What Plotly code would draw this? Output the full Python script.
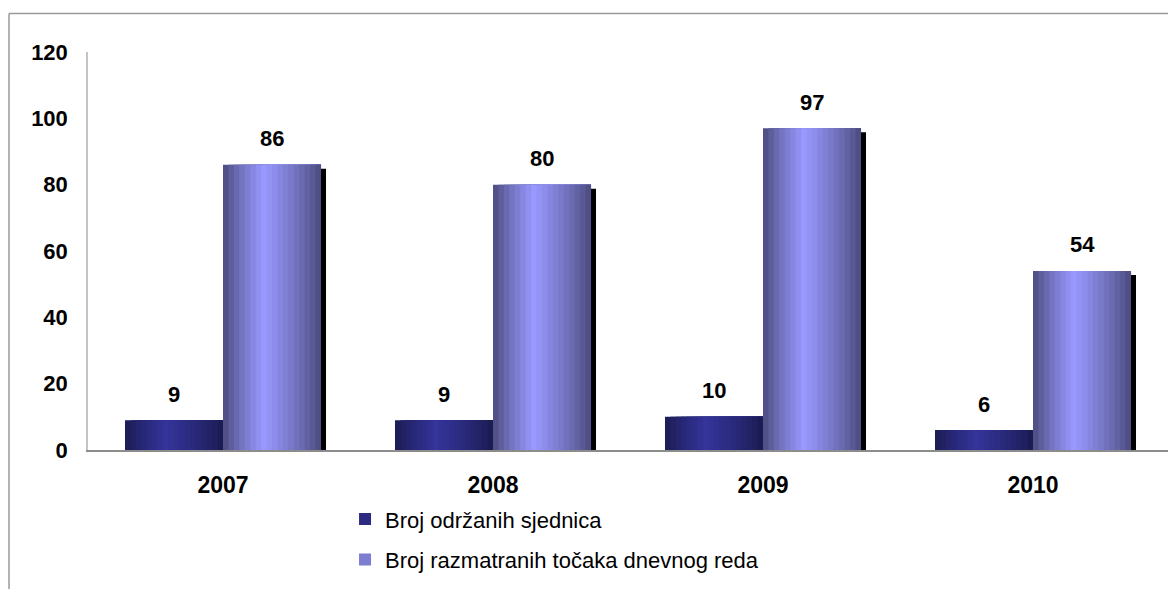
import plotly.graph_objects as go

years = ["2007", "2008", "2009", "2010"]
sessions = [9, 9, 10, 6]
agenda_items = [86, 80, 97, 54]
series_names = ["Broj održanih sjednica", "Broj razmatranih točaka dnevnog reda"]
y_ticks = [0, 20, 40, 60, 80, 100, 120]

FONT = "Liberation Sans, Arial, sans-serif"
BAR_W = 0.363          # width of one bar in category units
N_STRIPS = 18          # strips used to imitate the horizontal gradient
SHADOW_DX = 0.0185     # shadow shift (category units)
SHADOW_DY = 1.2        # shadow drop (value units)

xpos = list(range(len(years)))


def blend(edge, peak, t):
    return "rgb({},{},{})".format(*[round(e + (p - e) * t) for e, p in zip(edge, peak)])


def profile(u, peak_at=0.42):
    # 0 at the edges, 1 at the highlight
    if u <= peak_at:
        v = u / peak_at
    else:
        v = (1 - u) / (1 - peak_at)
    return v ** 0.8


fig = go.Figure()

# shadow behind the light bars
fig.add_trace(go.Bar(
    x=xpos, y=[v - SHADOW_DY for v in agenda_items],
    width=BAR_W, offset=SHADOW_DX, marker=dict(color="black", line=dict(width=0)),
    showlegend=False, hoverinfo="skip"))

series = [
    (sessions, -BAR_W, (26, 26, 78), (52, 52, 155), series_names[0], "legend"),
    (agenda_items, 0.0, (72, 72, 120), (153, 153, 255), series_names[1], "legend2"),
]

for vals, start, edge, peak, name, leg in series:
    for k in range(N_STRIPS):
        u0 = k / N_STRIPS
        uc = (k + 0.5) / N_STRIPS
        col = blend(edge, peak, profile(uc))
        show = (k == 4)
        fig.add_trace(go.Bar(
            x=xpos, y=vals,
            width=BAR_W * (1 - u0), offset=start + BAR_W * u0,
            marker=dict(color=col, line=dict(width=0)),
            name=name, showlegend=show, legend=leg,
            hoverinfo="skip"))

# value labels
for vals, centre in [(sessions, -BAR_W / 2), (agenda_items, BAR_W / 2)]:
    for i, v in enumerate(vals):
        fig.add_annotation(x=xpos[i] + centre, y=v, text=f"<b>{v}</b>",
                           showarrow=False, yanchor="middle", yshift=26,
                           font=dict(family=FONT, size=22, color="black"))

fig.update_layout(
    width=1168, height=581,
    margin=dict(l=80, r=8, t=44, b=134),
    paper_bgcolor="white", plot_bgcolor="white",
    barmode="overlay",
    font=dict(family=FONT, color="black"),
    xaxis=dict(range=[-0.5, len(years) - 0.5], tickvals=xpos, ticktext=[f"<b>{y}</b>" for y in years],
               showgrid=False, zeroline=False, showline=True, linecolor="#8c8c8c", linewidth=1.5,
               ticks="", tickfont=dict(family=FONT, size=23), ticklabelstandoff=14, fixedrange=True),
    yaxis=dict(range=[0, 120], tickvals=y_ticks, ticktext=[f"<b>{t}</b>" for t in y_ticks],
               showgrid=False, zeroline=False, showline=True, linecolor="#c4c4c4", linewidth=1.5,
               ticks="", tickfont=dict(family=FONT, size=22), ticklabelstandoff=14, fixedrange=True),
    legend=dict(x=0.238, y=-0.1737, xanchor="left", yanchor="middle",
                font=dict(family=FONT, size=22), bgcolor="rgba(0,0,0,0)"),
    legend2=dict(x=0.238, y=-0.2754, xanchor="left", yanchor="middle",
                 font=dict(family=FONT, size=22), bgcolor="rgba(0,0,0,0)"),
    showlegend=True,
)

# outer chart frame (extends beyond the visible page on right and bottom)
fx = (1 - 80) / 1080
fy = 1 + (44 - 5) / 403
fig.add_shape(type="line", xref="paper", yref="paper", x0=fx, y0=fy, x1=1.2, y1=fy,
              line=dict(color="#9a9a9a", width=1.5), layer="above")
fig.add_shape(type="line", xref="paper", yref="paper", x0=fx, y0=fy, x1=fx, y1=-0.5,
              line=dict(color="#9a9a9a", width=1.5), layer="above")

fig.write_html("out.html")
